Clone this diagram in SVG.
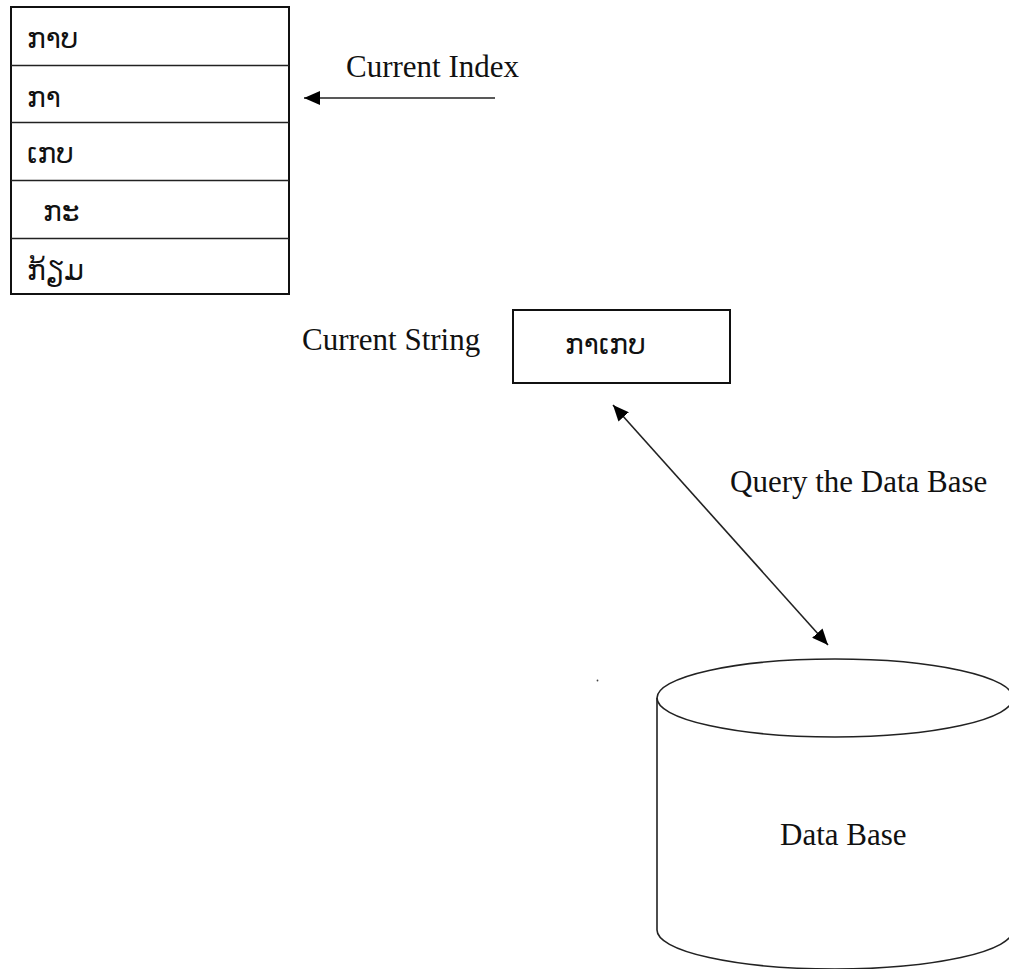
<svg xmlns="http://www.w3.org/2000/svg" width="1009" height="969" viewBox="0 0 1009 969">
<style>
.lbl{font-family:"Liberation Serif","Times New Roman",serif;font-size:31px;fill:#111}
.lao{font-family:"DejaVu Sans","Noto Sans",sans-serif;font-size:28px;fill:#111}
.ln{stroke:#222;stroke-width:1.6;fill:none}
.box{stroke:#111;stroke-width:2;fill:#fff}
</style>
<defs>
<marker id="ah" viewBox="0 0 16 14" refX="16" refY="7" markerWidth="16" markerHeight="14" markerUnits="userSpaceOnUse" orient="auto-start-reverse">
<path d="M0,0 L16,7 L0,14 Z" fill="#000"/>
</marker>
</defs>
<rect width="1009" height="969" fill="#fff"/>
<g id="index-table">
<rect class="box" x="11" y="7" width="278" height="287" stroke-width="1.6"/>
<line class="ln" x1="11" y1="65.5" x2="289" y2="65.5"/>
<line class="ln" x1="11" y1="122.5" x2="289" y2="122.5"/>
<line class="ln" x1="11" y1="180.5" x2="289" y2="180.5"/>
<line class="ln" x1="11" y1="238.5" x2="289" y2="238.5"/>
<text class="lao" x="27" y="48">ກາບ</text>
<text class="lao" x="27" y="107">ກາ</text>
<text class="lao" x="27" y="163">ເກບ</text>
<text class="lao" x="43" y="221">ກະ</text>
<text class="lao" x="27" y="280">ກ້ຽມ</text>
</g>
<g id="current-index">
<text class="lbl" x="346" y="77">Current Index</text>
</g>
<g id="current-string">
<text class="lbl" x="302" y="350">Current String</text>
<rect class="box" x="513" y="310" width="217" height="73"/>
<text class="lao" x="565" y="354">ກາເກບ</text>
</g>
<g id="query-label">
<text class="lbl" x="730" y="492">Query the Data Base</text>
</g>
<g id="database">
<path class="ln" d="M657,698 L657,930 A178,39 0 0 0 1013,930 L1013,698"/>
<ellipse class="ln" cx="835" cy="698" rx="178" ry="39"/>
<text class="lbl" x="780" y="845">Data Base</text>
</g>
<circle cx="597.5" cy="680.5" r="0.9" fill="#444"/>
<g id="connectors">
<line class="ln" x1="495" y1="98" x2="304" y2="98" stroke-width="2" marker-end="url(#ah)"/>
<line class="ln" x1="613" y1="405" x2="828" y2="645" stroke-width="2" marker-start="url(#ah)" marker-end="url(#ah)"/>
</g>
</svg>
